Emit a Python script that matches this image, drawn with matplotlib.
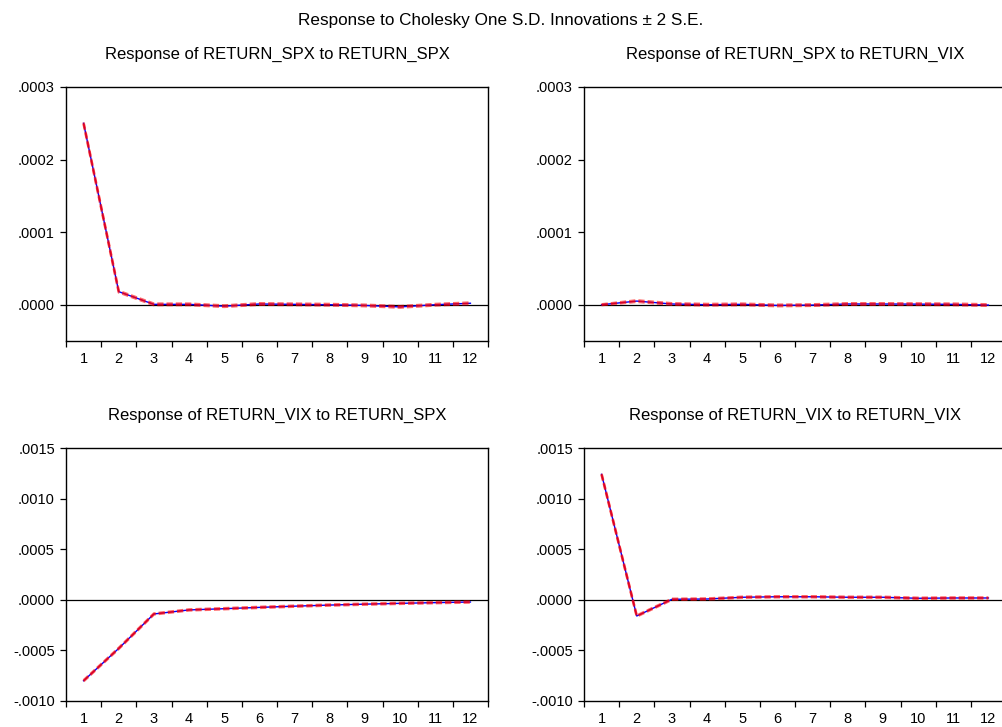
import matplotlib.pyplot as plt
import numpy as np
from matplotlib.ticker import FuncFormatter

plt.rcParams['font.family'] = ['Liberation Sans', 'DejaVu Sans']

periods = [1, 2, 3, 4, 5, 6, 7, 8, 9, 10, 11, 12]

titles = ['Response of RETURN_SPX to RETURN_SPX', 'Response of RETURN_SPX to RETURN_VIX',
          'Response of RETURN_VIX to RETURN_SPX', 'Response of RETURN_VIX to RETURN_VIX']

# impulse responses
spx_spx = [0.000250, 0.000018, 0.0000005, 0.0000005, -0.000002, 0.000001,
           0.0000005, 0.0, -0.000001, -0.000003, 0.0, 0.000002]
spx_vix = [0.0, 0.000005, 0.000001, 0.0, 0.0000005, -0.000001,
           -0.0000005, 0.000001, 0.000001, 0.0000008, 0.0000005, -0.0000005]
vix_spx = [-0.00080, -0.00048, -0.00014, -0.00010, -0.000088, -0.000075,
           -0.000063, -0.000052, -0.000043, -0.000035, -0.000028, -0.000022]
vix_vix = [0.00124, -0.00016, 0.000005, 0.000008, 0.000025, 0.00003,
           0.00003, 0.000025, 0.000025, 0.000015, 0.000018, 0.000018]

# +/- 2 S.E. bands
spx_spx_up = [0.000251, 0.000019, 0.0000015, 0.0000015, -0.000001, 0.000002,
              0.0000015, 0.000001, 0.0, -0.000002, 0.000001, 0.000003]
spx_spx_lo = [0.000249, 0.000017, -0.0000005, -0.0000005, -0.000003, 0.0,
              -0.0000005, -0.000001, -0.000002, -0.000004, -0.000001, 0.000001]
spx_vix_up = [0.0000005, 0.000006, 0.000002, 0.000001, 0.0000015, 0.0,
              0.0000005, 0.000002, 0.000002, 0.0000018, 0.0000015, 0.0000005]
spx_vix_lo = [-0.0000005, 0.000004, 0.0, -0.000001, -0.0000005, -0.000002,
              -0.0000015, 0.0, 0.0, -0.0000002, -0.0000005, -0.0000015]
vix_spx_up = [-0.000795, -0.000475, -0.000135, -0.000095, -0.000083, -0.000070,
              -0.000058, -0.000047, -0.000038, -0.000030, -0.000023, -0.000017]
vix_spx_lo = [-0.000805, -0.000485, -0.000145, -0.000105, -0.000093, -0.000080,
              -0.000068, -0.000057, -0.000048, -0.000040, -0.000033, -0.000027]
vix_vix_up = [0.001245, -0.000155, 0.00001, 0.000013, 0.00003, 0.000035,
              0.000035, 0.00003, 0.00003, 0.00002, 0.000023, 0.000023]
vix_vix_lo = [0.001235, -0.000165, 0.0, 0.000003, 0.00002, 0.000025,
              0.000025, 0.00002, 0.00002, 0.00001, 0.000013, 0.000013]

responses = [spx_spx, spx_vix, vix_spx, vix_vix]
uppers = [spx_spx_up, spx_vix_up, vix_spx_up, vix_vix_up]
lowers = [spx_spx_lo, spx_vix_lo, vix_spx_lo, vix_vix_lo]

top_ticks = [0.0, 0.0001, 0.0002, 0.0003]
bottom_ticks = [-0.0010, -0.0005, 0.0, 0.0005, 0.0010, 0.0015]


def fmt(v, pos):
    # eviews style: no leading zero
    if abs(v) < 1e-12:
        return '.0000'
    return ('%.4f' % v).replace('0.', '.')


fig = plt.figure(figsize=(10.02, 7.27), dpi=100)
W, H = 1002, 727
# axes boxes in pixels: left, top, right, bottom (right panels run off the edge)
boxes = [(66, 87, 488, 341), (584, 87, 1006, 341), (66, 448, 488, 701), (584, 448, 1006, 701)]

fig.text(0.5, 1 - 20 / H, 'Response to Cholesky One S.D. Innovations \u00b1 2 S.E.',
         ha='center', va='center', fontsize=12.3)

for i, (l, t, r, b) in enumerate(boxes):
    ax = fig.add_axes([l / W, 1 - b / H, (r - l) / W, (b - t) / H])
    ax.plot(periods, responses[i], color='blue', lw=1.0, zorder=3)
    ax.plot(periods, uppers[i], color='red', lw=1.8, ls=(0, (2.5, 1.2)), alpha=0.6, zorder=4)
    ax.plot(periods, lowers[i], color='red', lw=1.8, ls=(0, (2.5, 1.2)), alpha=0.6, zorder=4)
    ax.axhline(0, color='black', lw=0.9, zorder=2)
    ax.set_xlim(0.5, 12.5)
    if i < 2:
        ax.set_ylim(-0.00005, 0.0003)
        ax.set_yticks(top_ticks)
    else:
        ax.set_ylim(-0.0010, 0.0015)
        ax.set_yticks(bottom_ticks)
    ax.yaxis.set_major_formatter(FuncFormatter(fmt))
    ax.set_xticks(np.arange(0.5, 13, 1.0))
    ax.set_xticklabels([])
    ax.set_xticks(periods, minor=True)
    ax.set_xticklabels([str(p) for p in periods], minor=True)
    ax.tick_params(axis='x', which='minor', length=0, labelsize=10.5, pad=8)
    ax.tick_params(axis='x', which='major', length=4.5, width=0.9, direction='out')
    ax.tick_params(axis='y', length=4.5, width=0.9, direction='out', labelsize=10.5, pad=3.5)
    for s in ax.spines.values():
        s.set_linewidth(1.0)
        s.set_color('black')
    ax.set_title(titles[i], fontsize=12, pad=20)

fig.savefig('out.png', dpi=100)
